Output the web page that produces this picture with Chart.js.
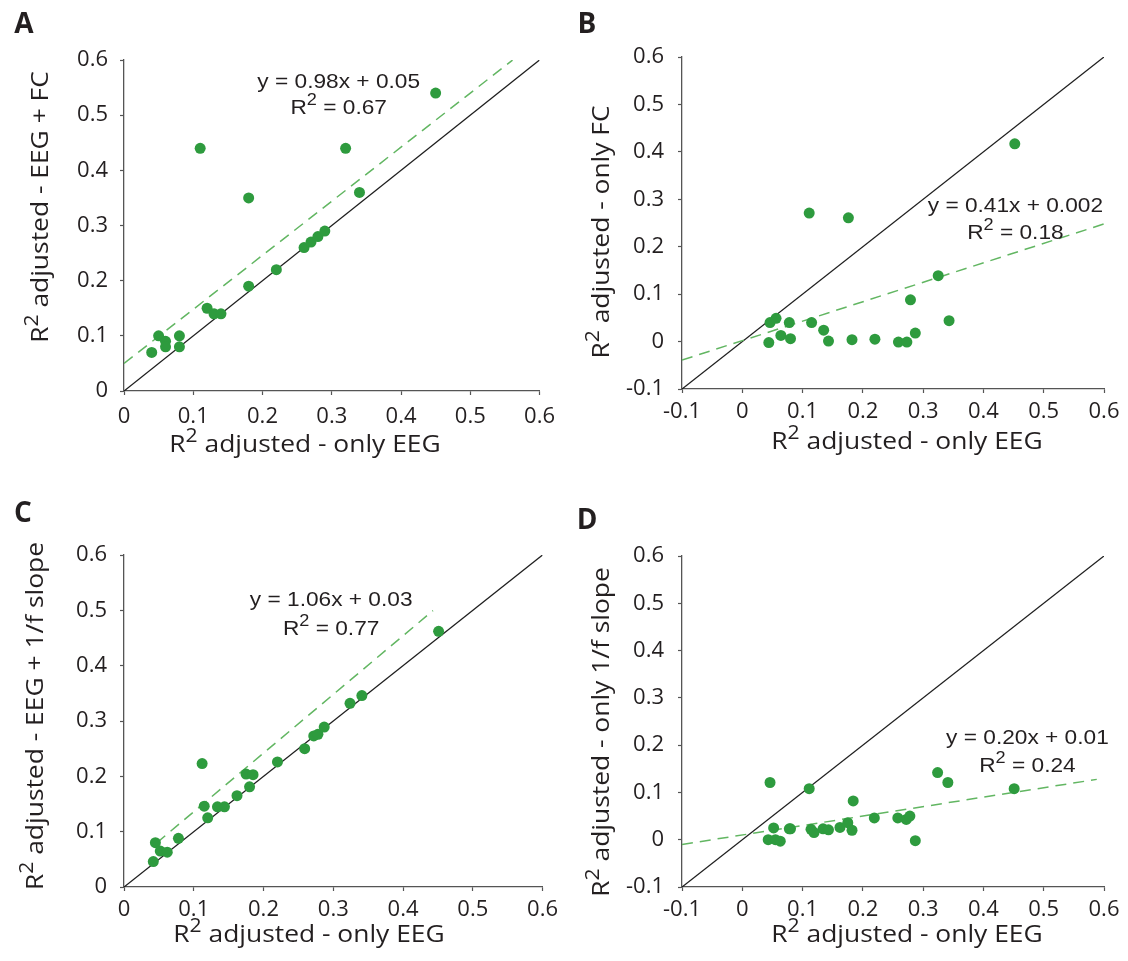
<!DOCTYPE html>
<html>
<head>
<meta charset="utf-8">
<script src="https://cdn.jsdelivr.net/npm/chart.js@4.4.1/dist/chart.umd.min.js"></script>
<style>
  html, body { margin: 0; padding: 0; background: #ffffff; }
  body { width: 1128px; height: 961px; position: relative; overflow: hidden; }
  canvas { position: absolute; }
</style>
</head>
<body>
<canvas id="cA" width="564" height="480" style="left:0px;top:0px"></canvas>
<canvas id="cB" width="564" height="480" style="left:564px;top:0px"></canvas>
<canvas id="cC" width="564" height="481" style="left:0px;top:480px"></canvas>
<canvas id="cD" width="564" height="481" style="left:564px;top:480px"></canvas>
<script>
// ---------------- DATA ----------------
// Panel A: R2 adjusted only EEG vs EEG + FC
const eegA  = [0.04, 0.05, 0.06, 0.06, 0.08, 0.08, 0.11, 0.12, 0.13, 0.14, 0.18, 0.18, 0.22, 0.26, 0.27, 0.28, 0.29, 0.32, 0.34, 0.45];
const combA = [0.07, 0.10, 0.09, 0.08, 0.10, 0.08, 0.44, 0.15, 0.14, 0.14, 0.35, 0.19, 0.22, 0.26, 0.27, 0.28, 0.29, 0.44, 0.36, 0.54];
// Panel B: only EEG vs only FC
const eegB  = [0.044, 0.046, 0.056, 0.064, 0.078, 0.080, 0.111, 0.115, 0.135, 0.143, 0.176, 0.182, 0.220, 0.259, 0.273, 0.279, 0.287, 0.325, 0.343, 0.452];
const fcB   = [-0.002, 0.040, 0.049, 0.013, 0.040, 0.006, 0.271, 0.040, 0.024, 0.001, 0.261, 0.004, 0.005, -0.001, -0.001, 0.088, 0.018, 0.139, 0.044, 0.417];
// Panel C: only EEG vs EEG + 1/f slope
const eegC  = [0.042, 0.045, 0.052, 0.062, 0.078, 0.112, 0.115, 0.120, 0.134, 0.144, 0.162, 0.175, 0.185, 0.180, 0.220, 0.259, 0.272, 0.278, 0.287, 0.324, 0.341, 0.451];
const combC = [0.046, 0.080, 0.065, 0.063, 0.088, 0.223, 0.146, 0.125, 0.145, 0.145, 0.165, 0.204, 0.203, 0.181, 0.226, 0.250, 0.273, 0.276, 0.289, 0.332, 0.346, 0.462];
// Panel D: only EEG vs only 1/f slope
const eegD   = [0.046, 0.043, 0.052, 0.055, 0.063, 0.078, 0.080, 0.111, 0.114, 0.119, 0.134, 0.143, 0.162, 0.175, 0.182, 0.184, 0.219, 0.258, 0.272, 0.278, 0.287, 0.324, 0.341, 0.451];
const slopeD = [0.121, 0.000, 0.025, 0.000, -0.003, 0.023, 0.023, 0.108, 0.022, 0.015, 0.023, 0.021, 0.026, 0.036, 0.020, 0.082, 0.046, 0.046, 0.043, 0.050, -0.002, 0.142, 0.121, 0.108];

// regression fits: [slope, intercept], drawn over x range
const fitA = [0.98, 0.05];  const fitRangeA = [0, 0.561];
const fitB = [0.41, 0.002]; const fitRangeB = [-0.1, 0.6];
const fitC = [1.06, 0.03];  const fitRangeC = [0.047, 0.443];
const fitD = [0.20, 0.01];  const fitRangeD = [-0.1, 0.588];

// identity line ranges
const diagA = [0, 0.6];
const diagB = [-0.1, 0.6];
const diagC = [0, 0.6];
const diagD = [-0.1, 0.6];

// tick labels
const ticks0  = ['0', '0.1', '0.2', '0.3', '0.4', '0.5', '0.6'];
const ticksM1 = ['-0.1', '0', '0.1', '0.2', '0.3', '0.4', '0.5', '0.6'];

// texts
const xTitleText = 'adjusted - only EEG';
const yTitleA = 'adjusted - EEG + FC';
const yTitleB = 'adjusted - only FC';
const yTitleC = 'adjusted - EEG + 1/f slope';
const yTitleD = 'adjusted - only 1/f slope';
const eqA = 'y = 0.98x + 0.05', r2A = ' = 0.67';
const eqB = 'y = 0.41x + 0.002', r2B = ' = 0.18';
const eqC = 'y = 1.06x + 0.03', r2C = ' = 0.77';
const eqD = 'y = 0.20x + 0.01', r2D = ' = 0.24';

// ---------------- STYLE ----------------
const TXT = '#231f20';
const AXIS = '#555555';
const DOT = '#2e9b3e';
const FITC = '#62b662';
const TICKFONT = "'Open Sans', sans-serif";
const TITLEFONT = "'Open Sans', sans-serif";
const ANNFONT = "'Liberation Sans', Arial, sans-serif";

function pts(xs, ys) { return xs.map((x, i) => ({ x: x, y: ys[i] })); }
function linePts(range, f) { return range.map(x => ({ x: x, y: f[0] * x + f[1] })); }

function drawRich(ctx, parts, size, family, sx) {
  const supScale = 0.8;
  const widths = parts.map(p => {
    ctx.font = (p.sup ? size * supScale : size) + 'px ' + family;
    return ctx.measureText(p.t).width;
  });
  const total = widths.reduce((a, b) => a + b, 0);
  ctx.save();
  ctx.scale(sx, 1);
  let x = -total / 2;
  ctx.textAlign = 'left';
  ctx.textBaseline = 'middle';
  parts.forEach((p, i) => {
    ctx.font = (p.sup ? size * supScale : size) + 'px ' + family;
    ctx.fillText(p.t, x, p.sup ? -size * 0.36 : 0);
    x += widths[i];
  });
  ctx.restore();
}

const textPlugin = {
  id: 'panelText',
  afterDatasetsDraw(chart, args, o) {
    const ctx = chart.ctx;
    const xs = chart.scales.x, ys = chart.scales.y;
    ctx.save();
    ctx.fillStyle = TXT;
    ctx.font = 'bold ' + o.letterSize + 'px ' + TITLEFONT;
    ctx.textAlign = 'center';
    ctx.textBaseline = 'middle';
    ctx.fillText(o.letter, o.letterPos[0], o.letterPos[1]);
    ctx.save();
    ctx.translate(o.xTitlePos[0], o.xTitlePos[1]);
    drawRich(ctx, [{ t: 'R' }, { t: '2', sup: true }, { t: ' ' + o.xTitle }], o.titleSize, TITLEFONT, o.titleSx);
    ctx.restore();
    ctx.save();
    ctx.translate(o.yTitlePos[0], o.yTitlePos[1]);
    ctx.rotate(-Math.PI / 2);
    drawRich(ctx, [{ t: 'R' }, { t: '2', sup: true }, { t: ' ' + o.yTitle }], o.titleSize, TITLEFONT, o.titleSx);
    ctx.restore();
    const ax = xs.getPixelForValue(o.annX);
    ctx.save();
    ctx.translate(ax, ys.getPixelForValue(o.annY[0]));
    drawRich(ctx, [{ t: o.eq }], o.annSize, ANNFONT, o.annSx);
    ctx.restore();
    ctx.save();
    ctx.translate(ax, ys.getPixelForValue(o.annY[1]));
    drawRich(ctx, [{ t: 'R' }, { t: '2', sup: true }, { t: o.r2 }], o.annSize, ANNFONT, o.annSx);
    ctx.restore();
    ctx.restore();
  }
};

function makeChart(id, cfg) {
  const cv = document.getElementById(id);
  const W = cv.width, H = cv.height;
  const p = cfg.plot;
  const tickLabels = cfg.tickLabels;
  const axisCommon = (pad) => ({
    type: 'linear',
    min: cfg.min, max: 0.6,
    border: { display: true, color: AXIS, width: 1.3 },
    grid: { drawOnChartArea: false, drawTicks: true, tickLength: 4, tickColor: AXIS, tickWidth: 1.2 },
    ticks: {
      stepSize: 0.1, color: TXT, padding: pad,
      font: { family: TICKFONT, size: cfg.tickSize },
      callback: (v, i) => tickLabels[i]
    }
  });
  const xAx = axisCommon(cfg.xPad);
  xAx.afterFit = (s) => { s.height = H - p.b; };
  const yAx = axisCommon(cfg.yPad);
  yAx.afterFit = (s) => { s.width = p.l; };
  return new Chart(cv, {
    type: 'scatter',
    data: {
      datasets: [
        { data: pts(cfg.xs, cfg.ys), backgroundColor: DOT, borderWidth: 0, pointRadius: 5.5, pointHoverRadius: 5.5, order: 0 },
        { data: linePts(cfg.fitRange, cfg.fit), showLine: true, borderColor: FITC, borderWidth: 1.5, borderDash: [11, 7], pointRadius: 0, order: 1 },
        { data: linePts(cfg.diag, [1, 0]), showLine: true, borderColor: '#1e1e1e', borderWidth: 1.3, pointRadius: 0, order: 2 }
      ]
    },
    options: {
      responsive: false, animation: false,
      layout: { padding: { left: 0, top: p.t, right: W - p.r, bottom: 0 } },
      plugins: { legend: { display: false }, tooltip: { enabled: false }, panelText: cfg.text },
      scales: { x: xAx, y: yAx }
    },
    plugins: [textPlugin]
  });
}

const common = { tickSize: 22 };
const textCommon = { letterSize: 28, titleSize: 24, titleSx: 1.1, annSize: 21, annSx: 1.08 };

makeChart('cA', Object.assign({}, common, {
  xs: eegA, ys: combA, fit: fitA, fitRange: fitRangeA, diag: diagA, min: 0, tickLabels: ticks0,
  plot: { l: 124, t: 60, r: 544, b: 391 }, xPad: 9, yPad: 12,
  text: Object.assign({}, textCommon, { letter: 'A', letterPos: [24, 25], xTitlePos: [305, 445], xTitle: xTitleText, yTitle: yTitleA, yTitlePos: [41, 207], eq: eqA, r2: r2A, annX: 0.31, annY: [0.56, 0.513] })
}));
makeChart('cB', Object.assign({}, common, {
  xs: eegB, ys: fcB, fit: fitB, fitRange: fitRangeB, diag: diagB, min: -0.1, tickLabels: ticksM1,
  plot: { l: 118, t: 57, r: 540, b: 389 }, xPad: 6, yPad: 14,
  text: Object.assign({}, textCommon, { letter: 'B', letterPos: [23, 25], xTitlePos: [343, 442], xTitle: xTitleText, yTitle: yTitleB, yTitlePos: [38, 232], eq: eqB, r2: r2B, annX: 0.453, annY: [0.286, 0.229] })
}));
makeChart('cC', Object.assign({}, common, {
  xs: eegC, ys: combC, fit: fitC, fitRange: fitRangeC, diag: diagC, min: 0, tickLabels: ticks0,
  plot: { l: 124, t: 75, r: 544, b: 407 }, xPad: 6, yPad: 13,
  text: Object.assign({}, textCommon, { letter: 'C', letterPos: [23, 34], xTitlePos: [309, 455], xTitle: xTitleText, yTitle: yTitleC, yTitlePos: [36, 236], eq: eqC, r2: r2C, annX: 0.297, annY: [0.519, 0.466] })
}));
makeChart('cD', Object.assign({}, common, {
  xs: eegD, ys: slopeD, fit: fitD, fitRange: fitRangeD, diag: diagD, min: -0.1, tickLabels: ticksM1,
  plot: { l: 118, t: 76, r: 540, b: 407 }, xPad: 6, yPad: 14,
  text: Object.assign({}, textCommon, { letter: 'D', letterPos: [23, 41], xTitlePos: [343, 455], xTitle: xTitleText, yTitle: yTitleD, yTitlePos: [38, 252], eq: eqD, r2: r2D, annX: 0.473, annY: [0.215, 0.156] })
}));
</script>
</body>
</html>
